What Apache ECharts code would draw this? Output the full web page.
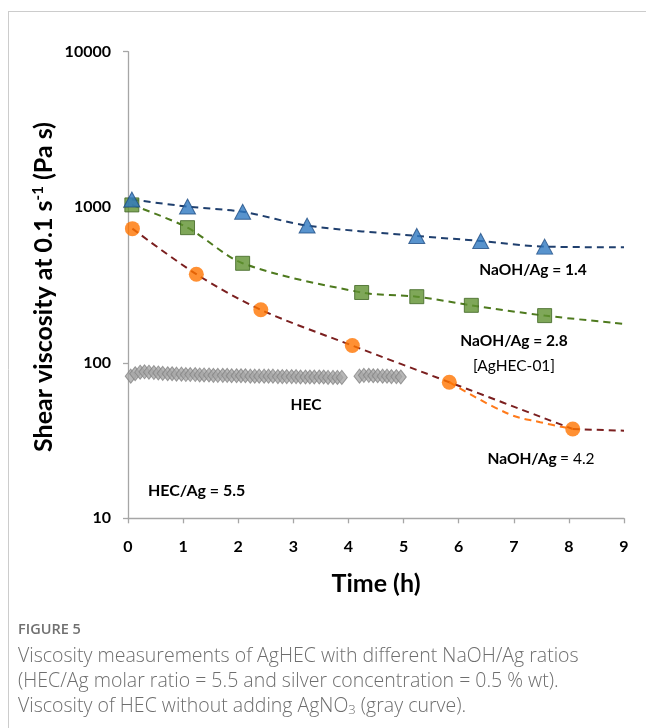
<!DOCTYPE html>
<html>
<head>
<meta charset="utf-8">
<script src="https://cdn.jsdelivr.net/npm/echarts@6/dist/echarts.min.js"></script>
<style>
html,body{margin:0;padding:0;background:#fff;}
#chart{width:646px;height:728px;}
</style>
</head>
<body>
<div id="chart"></div>
<script>
// ---- data ----
var xTicks = [0,1,2,3,4,5,6,7,8,9];
var yTicks = [10,100,1000,10000];

// NaOH/Ag = 1.4 (blue triangles)
var t14 = [0.07,1.08,2.08,3.25,5.24,6.40,7.56];
var v14 = [1120,1010,935,762,654,607,558];
var trend14End = [[9,553]];

// NaOH/Ag = 2.8 (green squares)
var t28 = [0.07,1.08,2.08,4.24,5.24,6.23,7.56];
var v28 = [1035,739,436,283,266,234,201];
var trend28End = [[9,178]];

// NaOH/Ag = 4.2 (orange circles)
var t42 = [0.08,1.24,2.41,4.07,5.83,8.07];
var v42 = [728,371,219,129,75,37.5];
var trend42End = [[9,36.6]];
var orangeSegT = [5.83,6.90,7.48,8.07];
var orangeSegV = [75,47,41.5,37.5];

// HEC alone (gray diamonds)
var tHEC1 = [0.05,0.13,0.22,0.30,0.38,0.47,0.55,0.63,0.72,0.80,0.88,0.97,1.05,1.13,1.22,1.30,1.38,1.47,1.55,1.63,1.72,1.80,1.88,1.97,2.05,2.13,2.22,2.30,2.38,2.47,2.55,2.63,2.72,2.80,2.88,2.97,3.05,3.13,3.22,3.30,3.38,3.47,3.55,3.63,3.72,3.80,3.88];
var vHEC1 = [82,85,87,87.5,87,86.5,86,85.5,85,85,84.5,84.5,84,84,84,83.5,83.5,83.5,83,83,83,83,82.5,82.5,82.5,82.5,82,82,82,82,82,82,81.5,81.5,81.5,81.5,81.5,81,81,81,81,81,81,80.5,80.5,80.5,80.5];
var tHEC2 = [4.20,4.28,4.37,4.45,4.53,4.62,4.70,4.78,4.87,4.95];
var vHEC2 = [82,83,83,82.5,82.5,82,82,81.5,81.5,81];

function zip(a,b){var r=[];for(var i=0;i<a.length;i++)r.push([a[i],b[i]]);return r;}

var FONT = 'Lato';
var CAP = 'Open Sans';
var chart = echarts.init(document.getElementById('chart'));
var dash = [7,5];

var option = {
  animation:false,
  backgroundColor:'#fff',
  grid:{left:128,right:22,top:51.7,bottom:209.7,containLabel:false},
  xAxis:{
    type:'value',min:0,max:9,interval:1,
    name:'Time (h)',nameLocation:'middle',nameGap:53,
    nameTextStyle:{fontFamily:FONT,fontWeight:'bold',fontSize:25,color:'#000'},
    axisLine:{show:true,onZero:false,lineStyle:{color:'#a6a6a6',width:1.3}},
    axisTick:{show:true,length:5,lineStyle:{color:'#a6a6a6',width:1.3}},
    axisLabel:{margin:21,fontFamily:FONT,fontWeight:'bold',fontSize:16,color:'#000',
      formatter:function(v){return xTicks.indexOf(v)>=0?String(v):'';}},
    splitLine:{show:false}
  },
  yAxis:{
    type:'log',logBase:10,min:10,max:10000,
    axisLine:{show:true,lineStyle:{color:'#a6a6a6',width:1.3}},
    axisTick:{show:true,length:5,lineStyle:{color:'#a6a6a6',width:1.3}},
    minorTick:{show:false},
    axisLabel:{margin:17,fontFamily:FONT,fontWeight:'bold',fontSize:16,color:'#000',
      formatter:function(v){var r=Math.round(v);return yTicks.indexOf(r)>=0?String(r):'';}},
    splitLine:{show:false}
  },
  series:[
    // HEC diamonds
    {type:'scatter',data:zip(tHEC1,vHEC1),symbol:'diamond',symbolSize:[11,14],
     itemStyle:{color:'#a6a6a6',borderColor:'#858585',borderWidth:1},z:2},
    {type:'scatter',data:zip(tHEC2,vHEC2),symbol:'diamond',symbolSize:[11,14],
     itemStyle:{color:'#a6a6a6',borderColor:'#858585',borderWidth:1},z:2},
    // trend lines
    {type:'line',data:zip(t42,v42),smooth:0.3,showSymbol:false,symbol:'none',
     lineStyle:{color:'#7b1f1f',width:2,type:dash},z:3},
    {type:'line',data:[[t42[t42.length-1],v42[v42.length-1]]].concat(trend42End),showSymbol:false,symbol:'none',
     lineStyle:{color:'#7b1f1f',width:2,type:dash},z:3},
    {type:'line',data:zip(orangeSegT,orangeSegV),smooth:0.4,showSymbol:false,symbol:'none',
     lineStyle:{color:'#ff7a1a',width:2,type:dash},z:4},
    {type:'line',data:zip(t28,v28).concat(trend28End),smooth:0.3,showSymbol:false,symbol:'none',
     lineStyle:{color:'#4e7a1e',width:2,type:dash},z:3},
    {type:'line',data:zip(t14,v14).concat(trend14End),smooth:0.3,showSymbol:false,symbol:'none',
     lineStyle:{color:'#1f3f6e',width:2,type:dash},z:3},
    // markers
    {type:'scatter',data:zip(t42,v42),symbol:'circle',symbolSize:15,
     itemStyle:{color:'#ff7400',borderColor:'#ff7400',borderWidth:0},z:6},
    {type:'scatter',data:zip(t28,v28),symbol:'rect',symbolSize:14,
     itemStyle:{color:'#5f9130',borderColor:'#3d6420',borderWidth:1},z:7},
    {type:'scatter',data:zip(t14,v14),symbol:'triangle',symbolSize:[16,15],
     itemStyle:{color:'#2e78c0',borderColor:'#1f4e85',borderWidth:1},z:8}
  ],
  graphic:[
    // card border
    {type:'line',shape:{x1:8,y1:11.5,x2:646,y2:11.5},style:{stroke:'#cccccc',lineWidth:1},silent:true},
    {type:'line',shape:{x1:8.5,y1:11,x2:8.5,y2:728},style:{stroke:'#cccccc',lineWidth:1},silent:true},
    // y axis name
    {type:'text',x:44,y:287,rotation:Math.PI/2,
     style:{text:'{a|Shear viscosity at 0.1 s}{s|-1}{a| (Pa s)}',align:'center',verticalAlign:'middle',
       rich:{a:{fontFamily:FONT,fontWeight:'bold',fontSize:25,fill:'#000'},
             s:{fontFamily:FONT,fontWeight:'bold',fontSize:15,fill:'#000',verticalAlign:'top',padding:[0,0,12,0]}}}},
    // annotations
    {type:'text',x:533,y:270,style:{text:'NaOH/Ag = 1.4',fontFamily:FONT,fontWeight:'bold',fontSize:15.5,fill:'#000',align:'center',verticalAlign:'middle'}},
    {type:'text',x:514,y:341,style:{text:'NaOH/Ag = 2.8',fontFamily:FONT,fontWeight:'bold',fontSize:15.5,fill:'#000',align:'center',verticalAlign:'middle'}},
    {type:'text',x:514,y:366,style:{text:'[AgHEC-01]',fontFamily:FONT,fontSize:15.5,fill:'#000',align:'center',verticalAlign:'middle'}},
    {type:'text',x:541,y:459,style:{text:'{b|NaOH/Ag} {n|= 4.2}',align:'center',verticalAlign:'middle',
      rich:{b:{fontFamily:FONT,fontWeight:'bold',fontSize:15.5,fill:'#000'},n:{fontFamily:FONT,fontSize:15.5,fill:'#000'}}}},
    {type:'text',x:306,y:405,style:{text:'HEC',fontFamily:FONT,fontWeight:'bold',fontSize:15.5,fill:'#000',align:'center',verticalAlign:'middle'}},
    {type:'text',x:148,y:491,style:{text:'HEC/Ag = 5.5',fontFamily:FONT,fontWeight:'bold',fontSize:16,fill:'#000',align:'left',verticalAlign:'middle'}},
    // caption
    {type:'text',x:18,y:630,style:{text:'FIGURE 5',fontFamily:CAP,fontWeight:600,fontSize:14.5,fill:'#707070',align:'left',verticalAlign:'middle'}},
    {type:'text',x:18,y:656,style:{text:'Viscosity measurements of AgHEC with different NaOH/Ag ratios',fontFamily:CAP,fontWeight:300,fontSize:19.5,fill:'#6e6e6e',align:'left',verticalAlign:'middle'}},
    {type:'text',x:18,y:681,style:{text:'(HEC/Ag molar ratio = 5.5 and silver concentration = 0.5 % wt).',fontFamily:CAP,fontWeight:300,fontSize:19.5,fill:'#6e6e6e',align:'left',verticalAlign:'middle'}},
    {type:'text',x:18,y:706,style:{text:'{a|Viscosity of HEC without adding AgNO}{s|3}{a| (gray curve).}',align:'left',verticalAlign:'middle',
      rich:{a:{fontFamily:CAP,fontWeight:300,fontSize:19.5,fill:'#6e6e6e'},s:{fontFamily:CAP,fontWeight:300,fontSize:13,fill:'#6e6e6e',verticalAlign:'bottom',padding:[9,0,0,0]}}}}
  ]
};
chart.setOption(option);
</script>
</body>
</html>
